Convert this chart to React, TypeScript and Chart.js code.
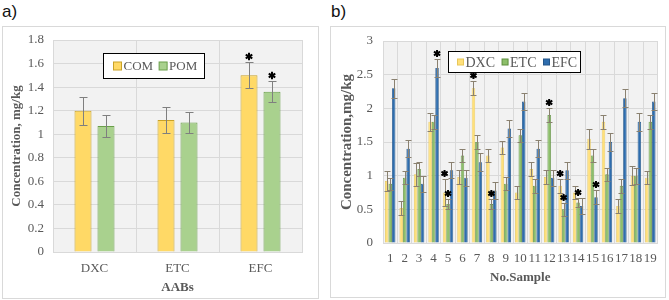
import React, { useEffect, useRef } from 'react';
import { Chart, registerables } from 'chart.js';
Chart.register(...registerables);

// ---------- Panel a data ----------
const aCategories = ['DXC', 'ETC', 'EFC'];
const aCom = [1.2, 1.12, 1.5];
const aComErr = [0.12, 0.11, 0.11];
const aPom = [1.07, 1.1, 1.36];
const aPomErr = [0.09, 0.09, 0.09];
const aComStars = [2];
const aPomStars = [2];

// ---------- Panel b data ----------
const bSamples = ['1', '2', '3', '4', '5', '6', '7', '8', '9', '10', '11', '12', '13', '14', '15', '16', '17', '18', '19'];
const bDxc = [0.92, 0.52, 1.02, 1.8, 0.75, 0.98, 2.3, 1.3, 1.42, 0.75, 1.1, 0.98, 0.85, 0.75, 1.55, 1.8, 0.55, 1.0, 0.97];
const bDxcErr = [0.15, 0.1, 0.17, 0.13, 0.2, 0.1, 0.1, 0.1, 0.1, 0.1, 0.1, 0.1, 0.1, 0.1, 0.15, 0.1, 0.1, 0.14, 0.1];
const bEtc = [0.88, 0.97, 1.1, 1.8, 0.58, 1.3, 1.5, 0.58, 0.88, 1.6, 0.85, 1.9, 0.5, 0.6, 1.3, 1.02, 0.85, 1.0, 1.8];
const bEtcErr = [0.09, 0.1, 0.1, 0.1, 0.07, 0.1, 0.1, 0.07, 0.1, 0.1, 0.1, 0.1, 0.1, 0.07, 0.1, 0.1, 0.1, 0.12, 0.1];
const bEfc = [2.3, 1.4, 0.88, 2.6, 1.08, 0.97, 1.2, 0.78, 1.7, 2.1, 1.4, 0.97, 1.08, 0.55, 0.68, 1.5, 2.15, 1.8, 2.1];
const bEfcErr = [0.14, 0.13, 0.12, 0.13, 0.12, 0.12, 0.13, 0.12, 0.13, 0.13, 0.13, 0.12, 0.13, 0.12, 0.1, 0.13, 0.13, 0.13, 0.13];
const bDxcStars = [4, 6, 12];
const bEtcStars = [4, 7, 11, 12, 13];
const bEfcStars = [3, 14];

const SERIF = "'Liberation Serif', 'Times New Roman', serif";

function drawStar(ctx: CanvasRenderingContext2D, x: number, y: number, r: number) {
  ctx.save();
  ctx.strokeStyle = '#000';
  ctx.fillStyle = '#000';
  ctx.lineWidth = 2;
  ctx.beginPath();
  for (let k = 0; k < 3; k++) {
    const a = Math.PI / 2 + (k * Math.PI) / 3;
    ctx.moveTo(x + r * Math.cos(a), y + r * Math.sin(a));
    ctx.lineTo(x - r * Math.cos(a), y - r * Math.sin(a));
  }
  ctx.stroke();
  ctx.beginPath();
  ctx.arc(x, y, r * 0.55, 0, Math.PI * 2);
  ctx.fill();
  ctx.restore();
}

const plotBgPlugin = {
  id: 'plotBg',
  beforeDraw(chart: any) {
    const { ctx, chartArea } = chart;
    ctx.save();
    ctx.fillStyle = '#ffffff';
    ctx.fillRect(0, 0, chart.width, chart.height);
    ctx.fillStyle = '#F2F2F2';
    ctx.fillRect(chartArea.left, chartArea.top, chartArea.right - chartArea.left, chartArea.bottom - chartArea.top);
    ctx.restore();
  },
};

const errBarsPlugin = {
  id: 'errBars',
  afterDatasetsDraw(chart: any, _args: any, opts: any) {
    const ctx = chart.ctx;
    const y = chart.scales.y;
    chart.data.datasets.forEach((ds: any, i: number) => {
      const meta = chart.getDatasetMeta(i);
      meta.data.forEach((el: any, j: number) => {
        const v = ds.data[j];
        const e = ds.errors[j];
        const yt = Math.round(y.getPixelForValue(v + e)) + 0.5;
        const yb = Math.round(y.getPixelForValue(v - e)) + 0.5;
        const x = Math.round(el.x) + 0.5;
        ctx.save();
        ctx.strokeStyle = opts.color;
        ctx.lineWidth = 1;
        ctx.beginPath();
        ctx.moveTo(x, yt);
        ctx.lineTo(x, yb);
        ctx.moveTo(x - opts.cap, yt);
        ctx.lineTo(x + opts.cap, yt);
        ctx.moveTo(x - opts.cap, yb);
        ctx.lineTo(x + opts.cap, yb);
        ctx.stroke();
        ctx.restore();
        if (ds.stars && ds.stars.includes(j)) {
          drawStar(ctx, el.x, yt - opts.starGap, opts.starR);
        }
      });
    });
  },
};

const boxLegendPlugin = {
  id: 'boxLegend',
  afterDraw(chart: any, _args: any, opts: any) {
    const { ctx, chartArea } = chart;
    const x0 = Math.round(chartArea.left + opts.dx) + 0.5;
    const y0 = Math.round(chartArea.top + opts.dy) + 0.5;
    ctx.save();
    ctx.fillStyle = '#ffffff';
    ctx.fillRect(x0, y0, opts.w, opts.h);
    ctx.strokeStyle = '#000000';
    ctx.lineWidth = 1;
    ctx.strokeRect(x0, y0, opts.w, opts.h);
    ctx.font = `${opts.fontSize}px ${SERIF}`;
    ctx.textBaseline = 'middle';
    ctx.fillStyle = '#595959';
    const cy = y0 + opts.h / 2;
    let cx = x0 + opts.padX;
    chart.data.datasets.forEach((ds: any) => {
      const s = opts.box;
      ctx.fillStyle = ds.backgroundColor;
      ctx.fillRect(cx, cy - s / 2, s, s);
      ctx.strokeStyle = ds.borderColor;
      ctx.lineWidth = 1;
      ctx.strokeRect(cx, cy - s / 2, s, s);
      cx += s + opts.gapText;
      ctx.fillStyle = '#595959';
      ctx.fillText(ds.label, cx, cy + 1);
      cx += ctx.measureText(ds.label).width + opts.gapItem;
    });
    ctx.restore();
  },
};

function fmt1(v: any) {
  const n = Number(v);
  return Number(n.toFixed(1)).toString();
}

function ChartA() {
  const ref = useRef<HTMLCanvasElement>(null);
  useEffect(() => {
    const chart = new Chart(ref.current as HTMLCanvasElement, {
      type: 'bar',
      data: {
        labels: aCategories,
        datasets: [
          {
            label: 'COM', data: aCom, errors: aComErr, stars: aComStars,
            backgroundColor: '#FFD966', borderColor: '#C9A227', borderWidth: 1,
            categoryPercentage: 0.554, barPercentage: 0.74,
          } as any,
          {
            label: 'POM', data: aPom, errors: aPomErr, stars: aPomStars,
            backgroundColor: '#A9D18E', borderColor: '#6A9F4A', borderWidth: 1,
            categoryPercentage: 0.554, barPercentage: 0.74,
          } as any,
        ],
      },
      options: {
        responsive: false,
        animation: false,
        layout: { padding: { top: 13, right: 16, bottom: 0, left: 0 } },
        plugins: {
          legend: { display: false },
          tooltip: { enabled: false },
          errBars: { color: '#7F7F7F', cap: 4, starGap: 6, starR: 3.8 },
          boxLegend: { dx: 50, dy: 13, w: 101, h: 25, fontSize: 13, box: 8, padX: 10, gapText: 2, gapItem: 6 },
        } as any,
        scales: {
          x: {
            grid: { color: '#D9D9D9', drawTicks: false, offset: true },
            border: { color: '#D9D9D9' },
            ticks: { color: '#595959', font: { family: SERIF, size: 13 }, padding: 9 },
            title: { display: true, text: 'AABs', color: '#595959', font: { family: SERIF, size: 13, weight: 'bold' }, padding: { top: 0, bottom: 3 } },
            afterFit: (s: any) => { s.height = 46; },
          },
          y: {
            min: 0, max: 1.8,
            grid: { color: '#D9D9D9', drawTicks: false },
            border: { color: '#D9D9D9' },
            ticks: { stepSize: 0.2, color: '#595959', font: { family: SERIF, size: 13 }, padding: 9, callback: fmt1 },
            title: { display: true, text: 'Concentration, mg/kg', color: '#595959', font: { family: SERIF, size: 13, weight: 'bold' }, padding: { top: 6, bottom: 0 } },
            afterFit: (s: any) => { s.width = 50; s.paddingTop = 0; s.paddingBottom = 0; },
          },
        },
      } as any,
      plugins: [plotBgPlugin, errBarsPlugin, boxLegendPlugin],
    });
    return () => chart.destroy();
  }, []);
  return <canvas ref={ref} width={315} height={271} style={{ display: 'block' }} />;
}

function ChartB() {
  const ref = useRef<HTMLCanvasElement>(null);
  useEffect(() => {
    const common = { categoryPercentage: 0.72, barPercentage: 1.0, borderWidth: 0.8 };
    const chart = new Chart(ref.current as HTMLCanvasElement, {
      type: 'bar',
      data: {
        labels: bSamples,
        datasets: [
          { label: 'DXC', data: bDxc, errors: bDxcErr, stars: bDxcStars, backgroundColor: '#FFE07A', borderColor: '#E8C75A', ...common } as any,
          { label: 'ETC', data: bEtc, errors: bEtcErr, stars: bEtcStars, backgroundColor: '#8DBF6A', borderColor: '#5E8F3E', ...common } as any,
          { label: 'EFC', data: bEfc, errors: bEfcErr, stars: bEfcStars, backgroundColor: '#2E6DAE', borderColor: '#24568A', ...common } as any,
        ],
      },
      options: {
        responsive: false,
        animation: false,
        layout: { padding: { top: 14, right: 7, bottom: 0, left: 0 } },
        plugins: {
          legend: { display: false },
          tooltip: { enabled: false },
          errBars: { color: '#8A8170', cap: 3, starGap: 6, starR: 3.6 },
          boxLegend: { dx: 65, dy: 10, w: 132, h: 21, fontSize: 14, box: 6, padX: 9, gapText: 2, gapItem: 7 },
        } as any,
        scales: {
          x: {
            grid: { color: '#D9D9D9', drawTicks: false, offset: true },
            border: { color: '#D9D9D9' },
            ticks: { color: '#595959', font: { family: SERIF, size: 13 }, padding: 8, autoSkip: false, maxRotation: 0 },
            title: { display: true, text: 'No.Sample', color: '#595959', font: { family: SERIF, size: 13, weight: 'bold' }, padding: { top: 0, bottom: 12 } },
            afterFit: (s: any) => { s.height = 54; },
          },
          y: {
            min: 0, max: 3,
            grid: { color: '#D9D9D9', drawTicks: false },
            border: { color: '#D9D9D9' },
            ticks: { stepSize: 0.5, color: '#595959', font: { family: SERIF, size: 13 }, padding: 10, callback: fmt1 },
            title: { display: true, text: 'Concentration,mg/kg', color: '#595959', font: { family: SERIF, size: 15, weight: 'bold' }, padding: { top: 7, bottom: 0 } },
            afterFit: (s: any) => { s.width = 52; s.paddingTop = 0; s.paddingBottom = 0; },
          },
        },
      } as any,
      plugins: [plotBgPlugin, errBarsPlugin, boxLegendPlugin],
    });
    return () => chart.destroy();
  }, []);
  return <canvas ref={ref} width={334} height={270} style={{ display: 'block' }} />;
}

export default function App() {
  const labelStyle: React.CSSProperties = {
    position: 'absolute', fontFamily: "'Liberation Sans', Arial, sans-serif", fontSize: 17, lineHeight: '17px', color: '#111',
  };
  return (
    <div style={{ position: 'absolute', left: 0, top: 0, width: 669, height: 300, background: '#fff', overflow: 'hidden' }}>
      <div style={{ ...labelStyle, left: 2, top: 3 }}>a)</div>
      <div style={{ ...labelStyle, left: 331, top: 3 }}>b)</div>
      <div style={{ position: 'absolute', left: 2, top: 26, width: 317, height: 273, boxSizing: 'border-box', border: '1px solid #D9D9D9' }}>
        <ChartA />
      </div>
      <div style={{ position: 'absolute', left: 330, top: 26, width: 336, height: 272, boxSizing: 'border-box', border: '1px solid #D9D9D9' }}>
        <ChartB />
      </div>
    </div>
  );
}
